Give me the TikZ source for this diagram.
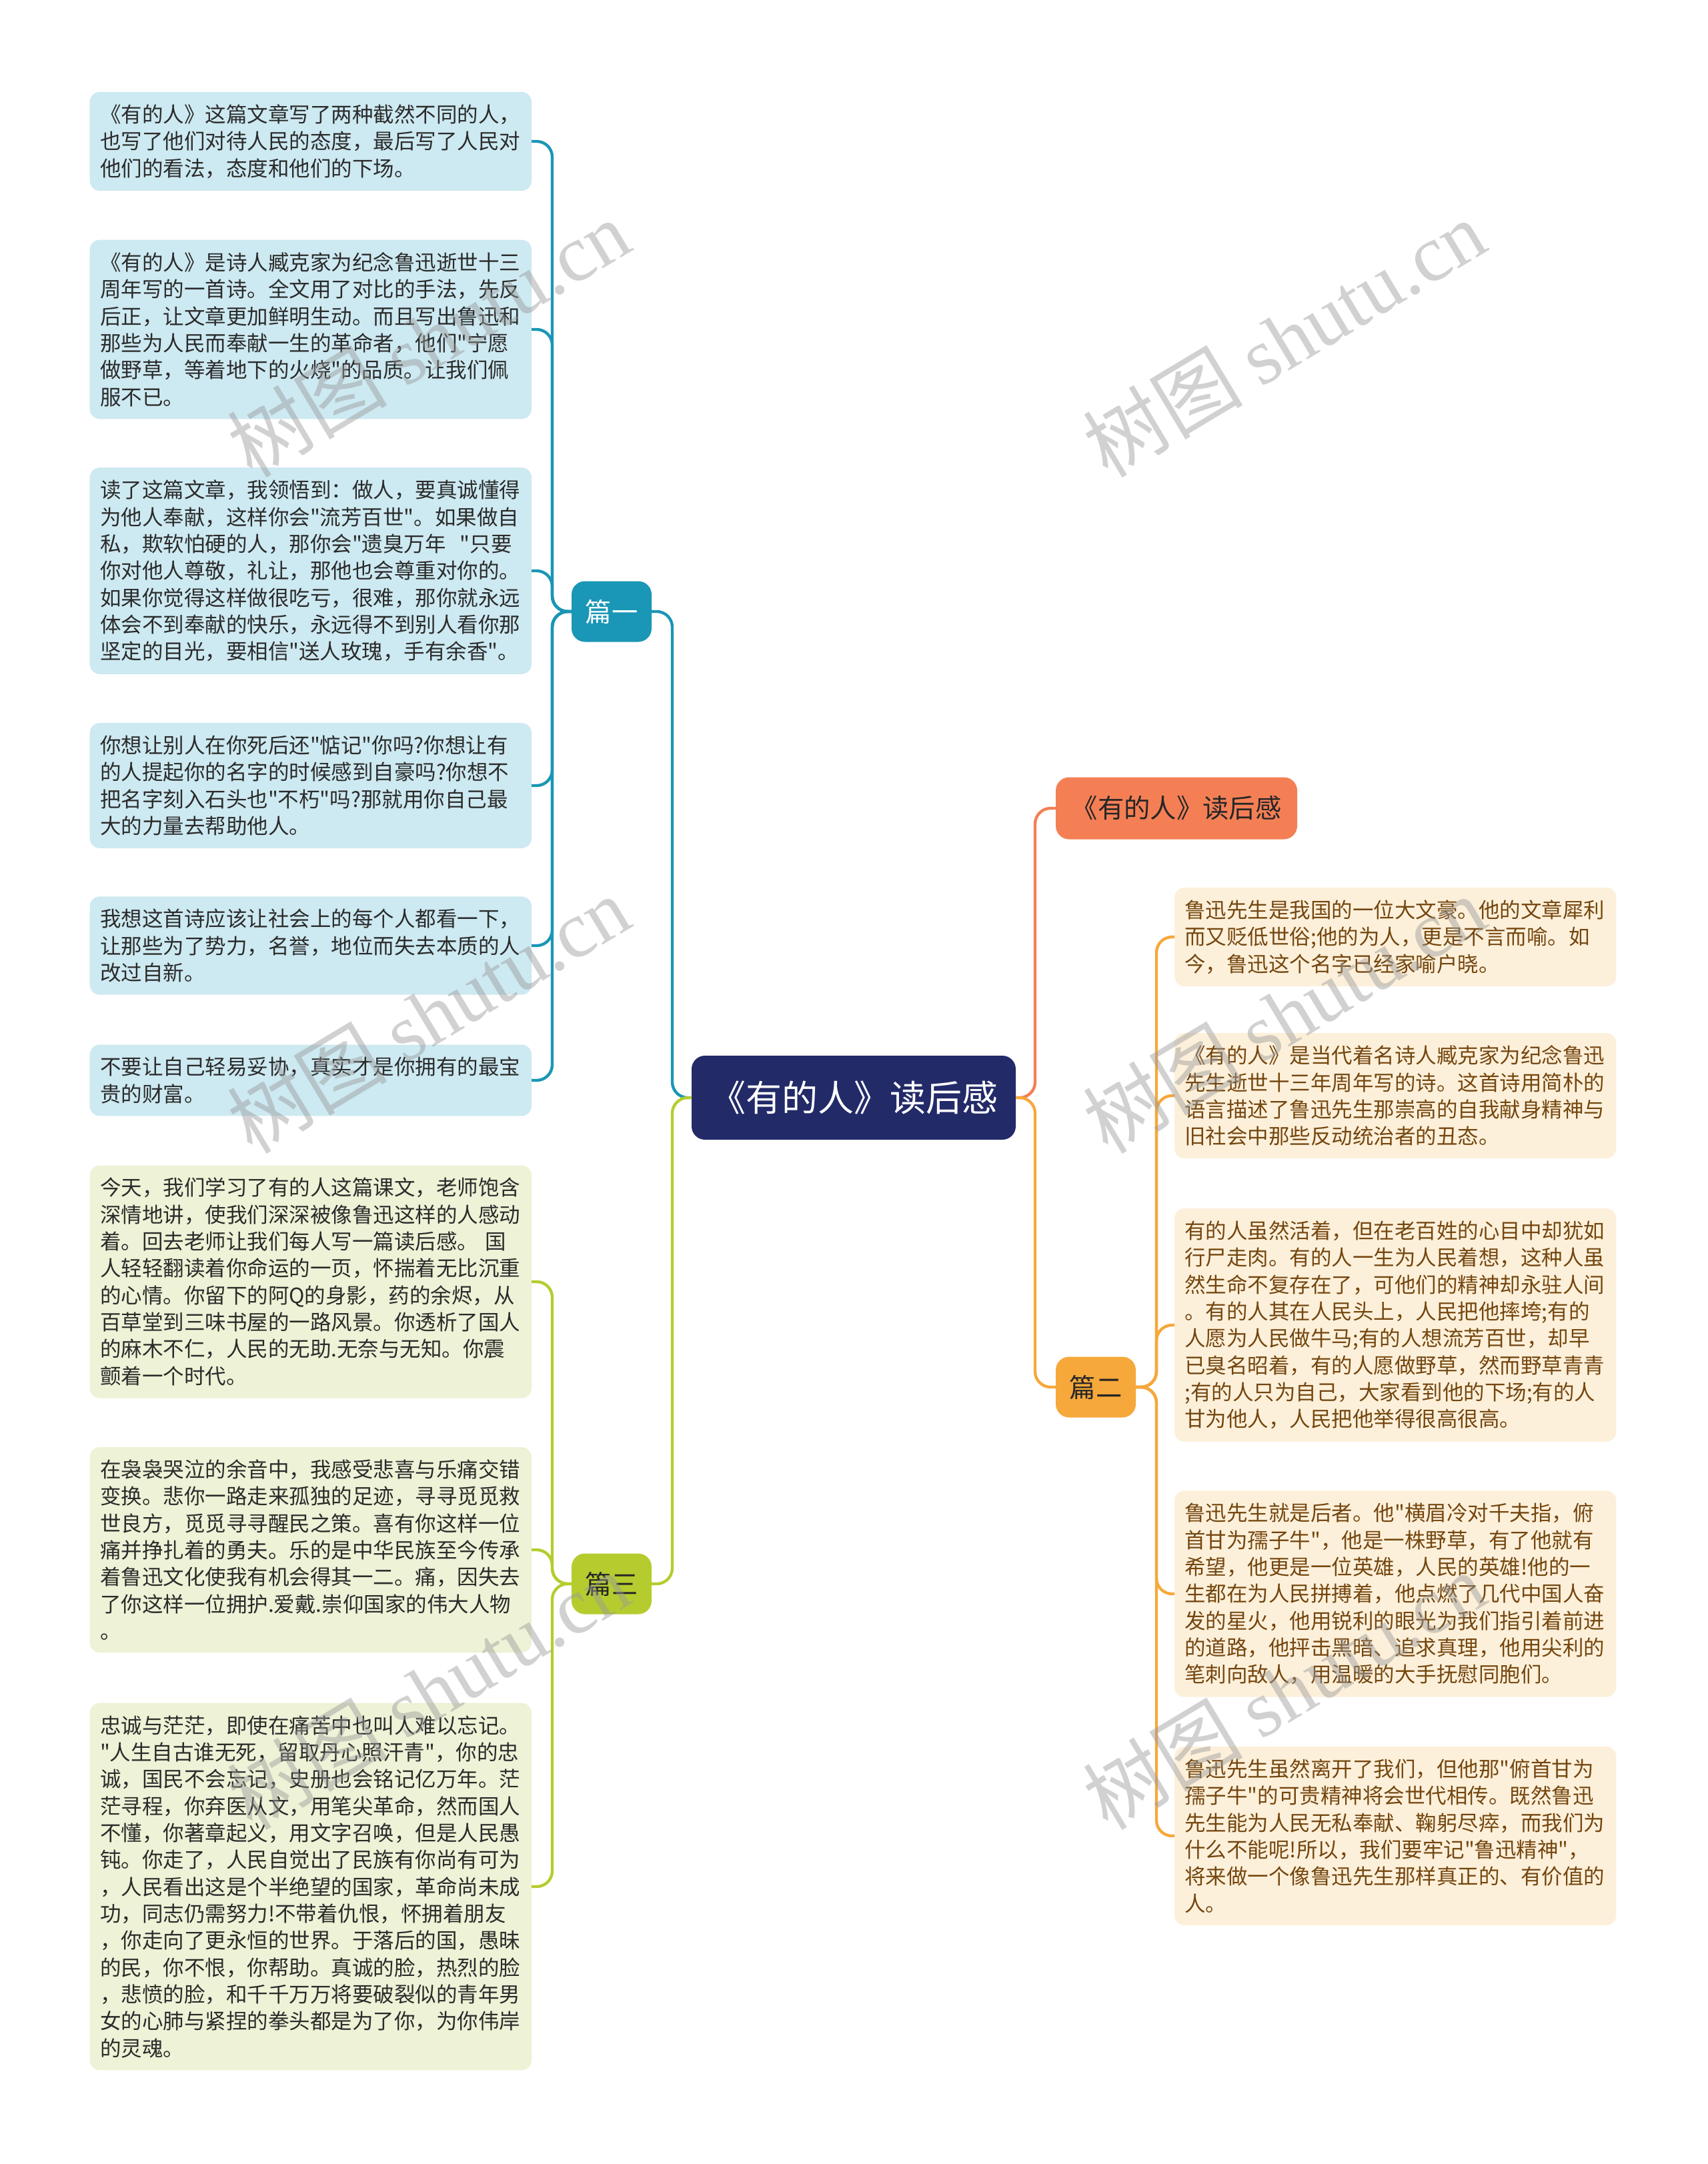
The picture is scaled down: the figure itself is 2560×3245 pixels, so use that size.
\documentclass[tikz,border=0pt]{standalone}
\usepackage{fontspec}
\newfontfamily\cjk{Noto Sans CJK SC}
\newfontfamily\wmlatin{Liberation Serif}
\usetikzlibrary{positioning}

\definecolor{rootnavy}{HTML}{222A68}
\definecolor{coral}{HTML}{F47F55}
\definecolor{amber}{HTML}{F6A83A}
\definecolor{teal}{HTML}{1A96B6}
\definecolor{lime}{HTML}{B6CC2E}
\definecolor{bluefill}{HTML}{CDE9F1}
\definecolor{greenfill}{HTML}{EEF2D6}
\definecolor{creamfill}{HTML}{FDF0DA}
\definecolor{leafink}{HTML}{2B2B2B}
\definecolor{brownink}{HTML}{74460F}

\begin{document}
\begin{tikzpicture}[
  x=0.3pt,y=-0.3pt,
  leaf/.style={rounded corners=4.5pt,text width=189.5pt,inner xsep=4.6pt,inner ysep=5.6pt,
    outer sep=0pt,align=left,font=\cjk\fontsize{9.45}{12.1}\selectfont},
  blueleaf/.style={leaf,fill=bluefill,text=leafink,anchor=east},
  greenleaf/.style={leaf,fill=greenfill,text=leafink,anchor=east},
  creamleaf/.style={leaf,fill=creamfill,text=brownink,anchor=west},
  branch/.style={rounded corners=6pt,minimum width=36pt,minimum height=27.3pt,
    inner sep=2pt,outer sep=0pt,font=\cjk\fontsize{11.8}{13}\selectfont},
  link/.style={line width=1.3pt,rounded corners=7pt},
  watermark/.style={rotate=31,text=black!40,opacity=0.45,font=\fontsize{36}{40}\selectfont}
]
  \fill[white] (0,0) rectangle (2560,3245);
  \useasboundingbox (0,0) rectangle (2560,3245);

  % centre and branches
  \node[fill=rootnavy,text=white,rounded corners=6pt,minimum width=145.8pt,minimum height=37.8pt,
    outer sep=0pt,font=\cjk\fontsize{16.2}{18}\selectfont] (root) at (1280,1646) {《有的人》读后感};
  \node[branch,fill=coral,text=black!85,minimum width=108.6pt,minimum height=27.9pt] (title) at (1764,1212) {《有的人》读后感};
  \node[branch,fill=teal,text=white] (p1) at (917,917) {篇一};
  \node[branch,fill=amber,text=black!85] (p2) at (1643,2080) {篇二};
  \node[branch,fill=lime,text=black!85] (p3) at (917,2375) {篇三};

  % 篇一
  \node[blueleaf] (b1) at (797,212) {《有的人》这篇文章写了两种截然不同的人，\\也写了他们对待人民的态度，最后写了人民对\\他们的看法，态度和他们的下场。};
  \node[blueleaf] (b2) at (797,494) {《有的人》是诗人臧克家为纪念鲁迅逝世十三\\周年写的一首诗。全文用了对比的手法，先反\\后正，让文章更加鲜明生动。而且写出鲁迅和\\那些为人民而奉献一生的革命者，他们"宁愿\\做野草，等着地下的火烧"的品质。让我们佩\\服不已。};
  \node[blueleaf] (b3) at (797,856) {读了这篇文章，我领悟到：做人，要真诚懂得\\为他人奉献，这样你会"流芳百世"。如果做自\\私，欺软怕硬的人，那你会"遗臭万年\ \ "只要\\你对他人尊敬，礼让，那他也会尊重对你的。\\如果你觉得这样做很吃亏，很难，那你就永远\\体会不到奉献的快乐，永远得不到别人看你那\\坚定的目光，要相信"送人玫瑰，手有余香"。};
  \node[blueleaf] (b4) at (797,1178) {你想让别人在你死后还"惦记"你吗?你想让有\\的人提起你的名字的时候感到自豪吗?你想不\\把名字刻入石头也"不朽"吗?那就用你自己最\\大的力量去帮助他人。};
  \node[blueleaf] (b5) at (797,1418) {我想这首诗应该让社会上的每个人都看一下，\\让那些为了势力，名誉，地位而失去本质的人\\改过自新。};
  \node[blueleaf] (b6) at (797,1620) {不要让自己轻易妥协，真实才是你拥有的最宝\\贵的财富。};

  % 篇三
  \node[greenleaf] (g1) at (797,1922) {今天，我们学习了有的人这篇课文，老师饱含\\深情地讲，使我们深深被像鲁迅这样的人感动\\着。回去老师让我们每人写一篇读后感。 国\\人轻轻翻读着你命运的一页，怀揣着无比沉重\\的心情。你留下的阿Q的身影，药的余烬，从\\百草堂到三味书屋的一路风景。你透析了国人\\的麻木不仁，人民的无助.无奈与无知。你震\\颤着一个时代。};
  \node[greenleaf] (g2) at (797,2324) {在袅袅哭泣的余音中，我感受悲喜与乐痛交错\\变换。悲你一路走来孤独的足迹，寻寻觅觅救\\世良方，觅觅寻寻醒民之策。喜有你这样一位\\痛并挣扎着的勇夫。乐的是中华民族至今传承\\着鲁迅文化使我有机会得其一二。痛，因失去\\了你这样一位拥护.爱戴.崇仰国家的伟大人物\\。};
  \node[greenleaf] (g3) at (797,2829) {忠诚与茫茫，即使在痛苦中也叫人难以忘记。\\"人生自古谁无死，留取丹心照汗青"，你的忠\\诚，国民不会忘记，史册也会铭记亿万年。茫\\茫寻程，你弃医从文，用笔尖革命，然而国人\\不懂，你著章起义，用文字召唤，但是人民愚\\钝。你走了，人民自觉出了民族有你尚有可为\\，人民看出这是个半绝望的国家，革命尚未成\\功，同志仍需努力!不带着仇恨，怀拥着朋友\\，你走向了更永恒的世界。于落后的国，愚昧\\的民，你不恨，你帮助。真诚的脸，热烈的脸\\，悲愤的脸，和千千万万将要破裂似的青年男\\女的心肺与紧捏的拳头都是为了你，为你伟岸\\的灵魂。};

  % 篇二
  \node[creamleaf] (r1) at (1761,1405) {鲁迅先生是我国的一位大文豪。他的文章犀利\\而又贬低世俗;他的为人，更是不言而喻。如\\今，鲁迅这个名字已经家喻户晓。};
  \node[creamleaf] (r2) at (1761,1643) {《有的人》是当代着名诗人臧克家为纪念鲁迅\\先生逝世十三年周年写的诗。这首诗用简朴的\\语言描述了鲁迅先生那崇高的自我献身精神与\\旧社会中那些反动统治者的丑态。};
  \node[creamleaf] (r3) at (1761,1987) {有的人虽然活着，但在老百姓的心目中却犹如\\行尸走肉。有的人一生为人民着想，这种人虽\\然生命不复存在了，可他们的精神却永驻人间\\。有的人其在人民头上，人民把他摔垮;有的\\人愿为人民做牛马;有的人想流芳百世，却早\\已臭名昭着，有的人愿做野草，然而野草青青\\;有的人只为自己，大家看到他的下场;有的人\\甘为他人，人民把他举得很高很高。};
  \node[creamleaf] (r4) at (1761,2390) {鲁迅先生就是后者。他"横眉冷对千夫指，俯\\首甘为孺子牛"，他是一株野草，有了他就有\\希望，他更是一位英雄，人民的英雄!他的一\\生都在为人民拼搏着，他点燃了几代中国人奋\\发的星火，他用锐利的眼光为我们指引着前进\\的道路，他抨击黑暗、追求真理，他用尖利的\\笔刺向敌人，用温暖的大手抚慰同胞们。};
  \node[creamleaf] (r5) at (1761,2753) {鲁迅先生虽然离开了我们，但他那"俯首甘为\\孺子牛"的可贵精神将会世代相传。既然鲁迅\\先生能为人民无私奉献、鞠躬尽瘁，而我们为\\什么不能呢!所以，我们要牢记"鲁迅精神"，\\将来做一个像鲁迅先生那样真正的、有价值的\\人。};

  % connectors
  \draw[link,coral] (root.east) -- ++(29,0) |- (title.west);
  \draw[link,amber] (root.east) -- ++(29,0) |- (p2.west);
  \draw[link,teal] (root.west) -- ++(-29,0) |- (p1.east);
  \draw[link,lime] (root.west) -- ++(-29,0) |- (p3.east);
  \foreach \n in {b1,b2,b3,b4,b5,b6}
    \draw[link,teal] (p1.west) -- ++(-29,0) |- (\n.east);
  \foreach \n in {g1,g2,g3}
    \draw[link,lime] (p3.west) -- ++(-29,0) |- (\n.east);
  \foreach \n in {r1,r2,r3,r4,r5}
    \draw[link,amber] (p2.east) -- ++(31,0) |- (\n.west);

  % watermarks
  \foreach \wx/\wy [count=\i] in {642/507,1925/507,642/1521,1925/1521,642/2535,1925/2535}
    \node[watermark] (wm\i) at (\wx,\wy) {\cjk 树图\ \wmlatin shutu.cn};
\end{tikzpicture}
\end{document}
